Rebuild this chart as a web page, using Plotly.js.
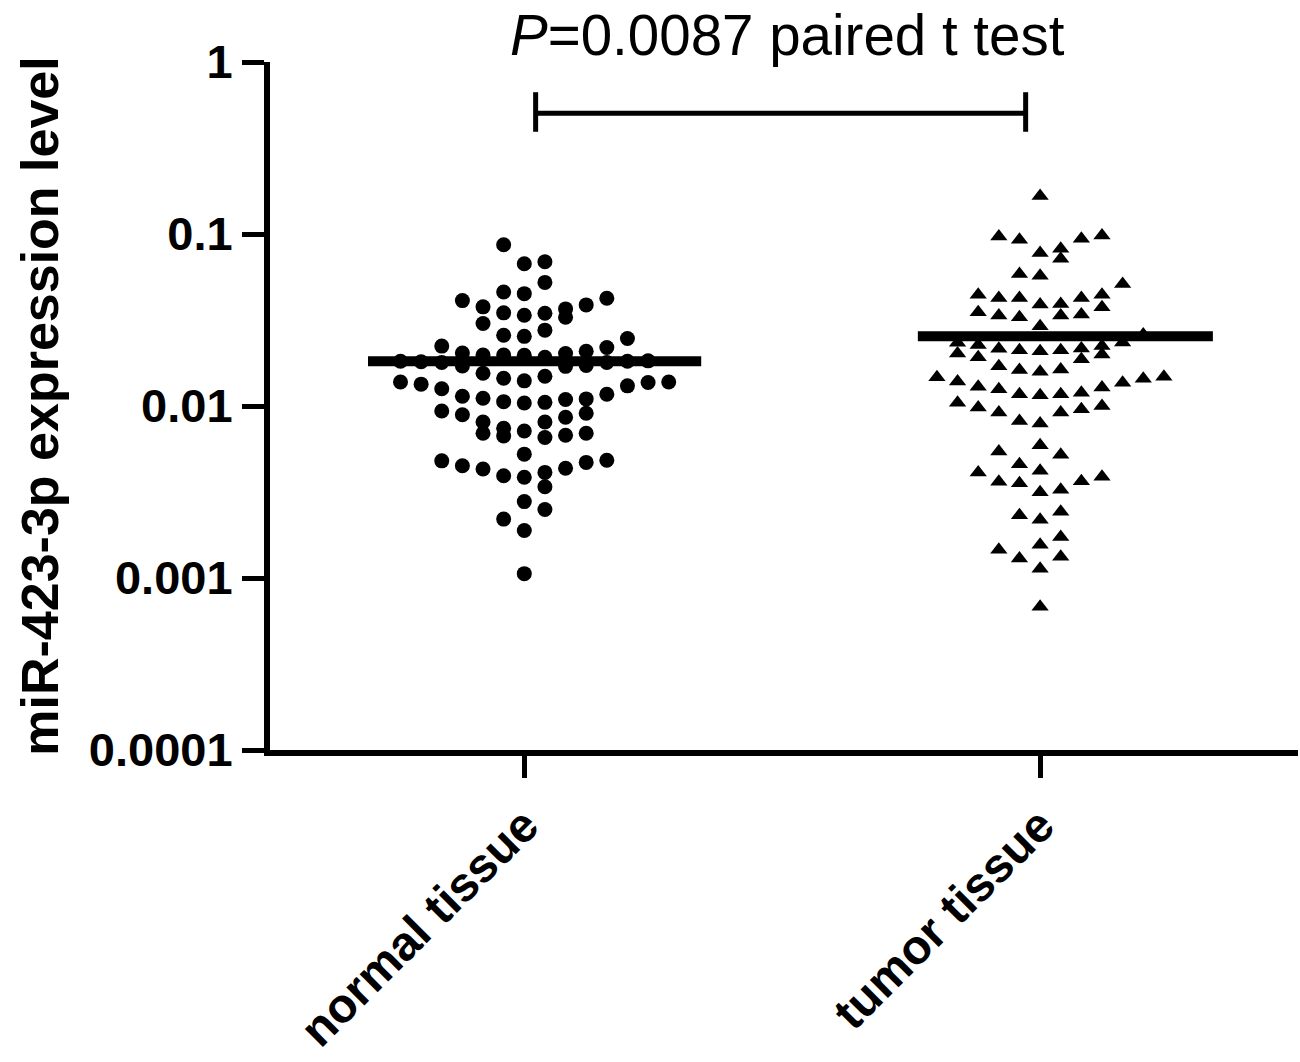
<!DOCTYPE html>
<html>
<head>
<meta charset="utf-8">
<script src="https://cdn.plot.ly/plotly-3.0.1.min.js"></script>
<style>html,body{margin:0;padding:0;background:#fff;}#chart{width:1300px;height:1062px;}</style>
</head>
<body>
<div id="chart"></div>
<script>
// ---- data ----
const categories = ['normal tissue', 'tumor tissue'];

// swarm column index (left/right of the category centre) and expression level
const normalCol = [
  -1, 0, 1, 1, -1, 0, -3, -2, -1, 0, 1, 2, 2, 3, 4, -2, -1, 0, 1, -4, 4, 5,
  -6, -5, -4, -3, -3, -2, -1, 0, 1, 2, 2, 3, 3, 4, 5, 6,
  -6, -5, -4, -2, -1, 0, 1, 4, 5, 6, 7,
  -3, -2, -1, 0, 1, 2, 3,
  -4, -3, 2, 3,
  -2, -2, -1, -1, 0, 1, 1, 2, 3,
  0, -4, -3, -2, -1, 0, 1, 1, 2, 3, 4,
  0, 1, -1, 0, 0
];
const normalVal = [
  0.0866, 0.0672, 0.0690, 0.0523, 0.0460, 0.0450, 0.0410, 0.0377, 0.0348, 0.0337, 0.0346, 0.0367, 0.0328, 0.0387, 0.0423, 0.0302, 0.0258, 0.0254, 0.0276, 0.0223, 0.0219, 0.0247,
  0.0182, 0.0181, 0.0179, 0.0203, 0.0171, 0.0198, 0.0198, 0.0197, 0.0192, 0.0202, 0.0170, 0.0208, 0.0172, 0.0179, 0.0182, 0.0183,
  0.0138, 0.0134, 0.0126, 0.0155, 0.0145, 0.0140, 0.0149, 0.0117, 0.0131, 0.0137, 0.0138,
  0.0114, 0.0111, 0.0106, 0.0104, 0.0105, 0.0109, 0.0110,
  0.00935, 0.00889, 0.00860, 0.00907,
  0.00808, 0.00695, 0.00743, 0.00670, 0.00716, 0.00808, 0.00656, 0.00676, 0.00695,
  0.00525, 0.00480, 0.00449, 0.00430, 0.00393, 0.00385, 0.00411, 0.00339, 0.00435, 0.00470, 0.00484,
  0.00278, 0.00250, 0.00220, 0.00189, 0.00106
];

const tumorCol = [
  0, -2, -1, 2, 3, 0, 1, 1, -1, 0, 4,
  -3, -2, -1, 0, 1, 2, 3, 3,
  -3, -2, -1, 1, 2, 0,
  5,
  -4, -3, -2, -1, 0, 1, 2, 3, 4,
  -4, -3, 2, 3,
  -2, -1, 0, 1,
  -5, -4, -3, -2, -1, 0, 1, 2, 3, 4, 5, 6,
  -4, -3, -2, -1, 0, 1, 2, 3,
  0, -2, 1, -1, 0, -3, -2, -1, 0, 1, 2, 3,
  -1, 0, 1, 1, 0, -2, -1, 1, 0, 0
];
const tumorVal = [
  0.1665, 0.0967, 0.0926, 0.0938, 0.0980, 0.0775, 0.0821, 0.0718, 0.0585, 0.0572, 0.0512,
  0.0444, 0.0425, 0.0425, 0.0389, 0.0392, 0.0425, 0.0444, 0.0375,
  0.0351, 0.0336, 0.0328, 0.0336, 0.0340, 0.0291,
  0.0260,
  0.0233, 0.0226, 0.0215, 0.0211, 0.0208, 0.0211, 0.0216, 0.0223, 0.0234,
  0.0202, 0.0192, 0.0187, 0.0199,
  0.0170, 0.0162, 0.0158, 0.0163,
  0.01467, 0.01390, 0.01296, 0.01250, 0.01169, 0.01153, 0.01169, 0.01196, 0.01279, 0.01367, 0.01441, 0.01481,
  0.01046, 0.00979, 0.00916, 0.00818, 0.00791, 0.00916, 0.00957, 0.01000,
  0.00592, 0.00544, 0.00520, 0.00459, 0.00420, 0.00411, 0.00363, 0.00355, 0.00315, 0.00326, 0.00365, 0.00388,
  0.00232, 0.00218, 0.00243, 0.00173, 0.00156, 0.00146, 0.00130, 0.00133, 0.00113, 0.00068
];

const medians = [0.0182, 0.0254];
const yTickVals = [0.0001, 0.001, 0.01, 0.1, 1];
const yTickText = ['0.0001', '0.001', '0.01', '0.1', '1'];
const yTitle = 'miR-423-3p expression level';
const pLabel = '<i>P</i>=0.0087 paired t test';

// ---- styling / layout constants ----
const colStep = 0.04;                 // swarm column spacing in category units
const medianExtent = [[-0.303, 0.343], [-0.237, 0.335]];
const FONT = 'Liberation Sans, Arial, Helvetica, sans-serif';

const xN = normalCol.map(c => 0 + c * colStep);
const xT = tumorCol.map(c => 1 + c * colStep);

const traces = [
  {type: 'scatter', mode: 'markers', x: xN, y: normalVal, name: categories[0],
   marker: {symbol: 'circle', size: 15, color: '#000'}, hoverinfo: 'y'},
  {type: 'scatter', mode: 'markers', x: xT, y: tumorVal, name: categories[1],
   marker: {symbol: 'triangle-up', size: 15, color: '#000'}, hoverinfo: 'y'},
];
medians.forEach((m, i) => {
  traces.push({type: 'scatter', mode: 'lines',
    x: [i + medianExtent[i][0], i + medianExtent[i][1]], y: [m, m],
    line: {color: '#000', width: 10}, hoverinfo: 'skip'});
});

const layout = {
  width: 1300, height: 1062,
  margin: {l: 270, r: 2, t: 62, b: 312},
  paper_bgcolor: '#fff', plot_bgcolor: '#fff',
  showlegend: false,
  font: {family: FONT, color: '#000'},
  xaxis: {
    range: [-0.493, 1.5], tickvals: [0, 1], ticktext: categories,
    tickangle: -45, ticks: 'outside', ticklen: 22, tickwidth: 5, tickcolor: '#000',
    showline: true, linewidth: 6, linecolor: '#000', showgrid: false, zeroline: false,
    tickfont: {family: FONT, size: 48, weight: 'bold', color: '#000'},
    ticklabelstandoff: 0
  },
  yaxis: {
    type: 'log', range: [-4, 0], tickvals: yTickVals, ticktext: yTickText,
    ticks: 'outside', ticklen: 22, tickwidth: 5, tickcolor: '#000',
    showline: true, linewidth: 6, linecolor: '#000', showgrid: false, zeroline: false,
    tickfont: {family: FONT, size: 47, weight: 'bold', color: '#000'},
    title: {text: yTitle, font: {family: FONT, size: 52, weight: 'bold', color: '#000'}, standoff: 16}
  },
  annotations: [{
    xref: 'x', yref: 'paper', x: 0.51, y: 1.039, xanchor: 'center', yanchor: 'middle',
    text: pLabel, showarrow: false, font: {family: FONT, size: 56.5, color: '#000'}
  }],
  shapes: [
    {type: 'line', xref: 'x', yref: 'paper', x0: 0.022, x1: 0.972, y0: 0.9256, y1: 0.9256, line: {color: '#000', width: 5}},
    {type: 'line', xref: 'x', yref: 'paper', x0: 0.022, x1: 0.022, y0: 0.8986, y1: 0.9561, line: {color: '#000', width: 5}},
    {type: 'line', xref: 'x', yref: 'paper', x0: 0.972, x1: 0.972, y0: 0.8986, y1: 0.9561, line: {color: '#000', width: 5}}
  ]
};

Plotly.newPlot('chart', traces, layout, {displayModeBar: false, staticPlot: true});
</script>
</body>
</html>
